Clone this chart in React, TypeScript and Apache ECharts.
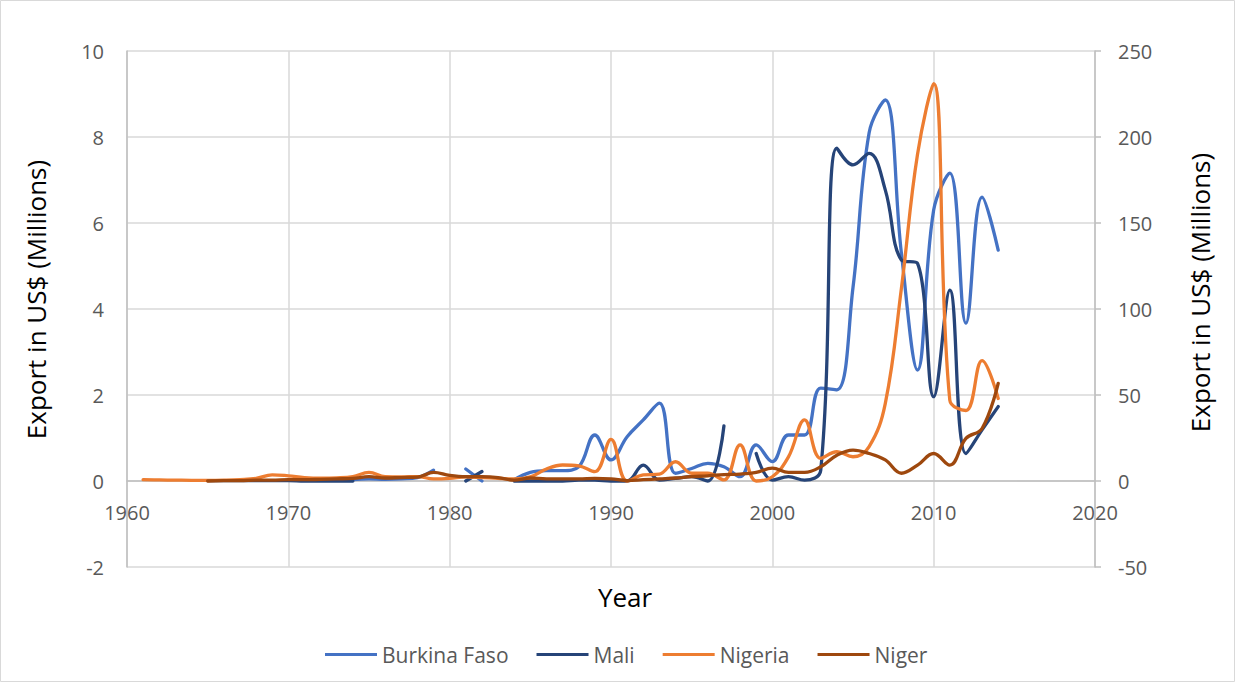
import React, { useEffect, useRef } from "react";
import * as echarts from "echarts";

const years = [
  1961, 1962, 1963, 1964, 1965, 1966, 1967, 1968, 1969, 1970,
  1971, 1972, 1973, 1974, 1975, 1976, 1977, 1978, 1979, 1980,
  1981, 1982, 1983, 1984, 1985, 1986, 1987, 1988, 1989, 1990,
  1991, 1992, 1993, 1994, 1995, 1996, 1997, 1998, 1999, 2000,
  2001, 2002, 2003, 2004, 2005, 2006, 2007, 2008, 2009, 2010,
  2011, 2012, 2013, 2014,
];

// Left axis (US$ millions)
const burkinaFaso = [
  null, null, null, null, null, null, null, null, null, null,
  null, null, null, 0.03, 0.05, 0.04, 0.05, 0.08, 0.25, null,
  0.28, 0.0, null, 0.03, 0.2, 0.24, 0.24, 0.33, 1.07, 0.49,
  1.03, 1.42, 1.81, 0.18, 0.29, 0.41, 0.33, 0.1, 0.84, 0.45,
  1.07, 1.07, 2.16, 2.12, 4.5, 8.1, 8.86, 5.3, 2.58, 6.3,
  7.16, 3.67, 6.6, 5.37,
];

const mali = [
  null, null, null, null, 0.01, 0.01, 0.01, 0.01, 0.01, 0.01,
  0.0, 0.0, 0.0, 0.0, null, null, null, null, null, null,
  0.0, 0.22, null, 0.0, 0.0, 0.0, 0.0, 0.02, 0.02, 0.0,
  0.0, 0.37, 0.02, 0.06, 0.1, 0.0, 1.28, null, 0.64, 0.02,
  0.1, 0.02, 0.25, 7.74, 7.35, 7.62, 6.77, 5.14, 5.06, 1.96,
  4.44, 0.64, 1.19, 1.73,
];

// Right axis (US$ millions)
const nigeria = [
  0.8, 0.6, 0.5, 0.4, 0.4, 0.5, 0.8, 1.5, 3.6, 3.0,
  2.0, 1.6, 1.8, 2.6, 5.0, 2.6, 2.4, 2.6, 1.2, 1.5,
  2.4, 2.0, 1.6, 1.2, 2.4, 7.0, 9.3, 8.8, 5.4, 24.2,
  0, 3.5, 4.0, 11.2, 4.5, 4.5, 0.6, 21, 0, 2.5,
  14, 35.5, 13.2, 17, 14.1, 20, 45, 112, 190, 231,
  47, 41, 70, 48,
];

// Left axis (US$ millions)
const niger = [
  null, null, null, null, 0.0, 0.01, 0.01, 0.02, 0.02, 0.03,
  0.03, 0.04, 0.05, 0.06, 0.1, 0.07, 0.08, 0.09, 0.2, 0.13,
  0.1, 0.1, 0.08, 0.02, 0.07, 0.05, 0.05, 0.05, 0.06, 0.05,
  0.01, 0.03, 0.05, 0.07, 0.1, 0.12, 0.15, 0.16, 0.2, 0.3,
  0.2, 0.2, 0.33, 0.6, 0.72, 0.64, 0.49, 0.18, 0.37, 0.64,
  0.37, 0.99, 1.22, 2.27,
];

const seriesNames = ["Burkina Faso", "Mali", "Nigeria", "Niger"];
const seriesColors = ["#4472C4", "#264478", "#ED7D31", "#9E480E"];
const seriesValues = [burkinaFaso, mali, nigeria, niger];
const seriesAxis = [0, 0, 1, 0];

const FONT = "'Open Sans', 'Noto Sans', sans-serif";

export default function App() {
  const ref = useRef<HTMLDivElement>(null);

  useEffect(() => {
    document.body.style.margin = "0";
    const chart = echarts.init(ref.current!, null, { renderer: "svg" });
    const series = seriesNames.map((name, i) => ({
      name,
      type: "line",
      yAxisIndex: seriesAxis[i],
      data: years.map((y, k) => [y, seriesValues[i][k]]),
      smooth: 0.4,
      symbol: "none",
      showSymbol: false,
      connectNulls: false,
      lineStyle: { color: seriesColors[i], width: 3.3, cap: "round", join: "round" },
      itemStyle: { color: seriesColors[i] },
    }));

    // the x axis sits on the zero line of the left axis: -2..10 over 516px -> 86px above the bottom
    const zeroOffset = -86;

    chart.setOption({
      animation: false,
      textStyle: { fontFamily: FONT },
      grid: {
        left: 127,
        right: 141,
        top: 51,
        bottom: 116,
        containLabel: false,
        outerBoundsMode: "none",
      },
      xAxis: {
        type: "value",
        position: "bottom",
        offset: zeroOffset,
        min: 1960,
        max: 2020,
        interval: 10,
        axisLine: { onZero: false, lineStyle: { color: "#bfbfbf", width: 1.5 } },
        axisTick: { show: false },
        axisLabel: {
          color: "#595959",
          fontSize: 20,
          fontFamily: FONT,
          margin: 21,
          showMinLabel: true,
          showMaxLabel: true,
          formatter: (v: number) => String(v),
        },
        splitLine: { show: true, lineStyle: { color: "#d9d9d9", width: 1.5 } },
        name: "Year",
        nameLocation: "middle",
        nameGap: 103,
        nameMoveOverlap: false,
        nameTextStyle: { color: "#000", fontSize: 26, fontFamily: FONT, padding: [0, 0, 0, 28] },
      },
      yAxis: [
        {
          type: "value",
          position: "left",
          min: -2,
          max: 10,
          interval: 2,
          axisLine: { show: true, lineStyle: { color: "#bfbfbf", width: 1.5 } },
          axisTick: { show: false },
          axisLabel: { color: "#595959", fontSize: 20, fontFamily: FONT, margin: 23 },
          splitLine: { show: true, lineStyle: { color: "#d9d9d9", width: 1.5 } },
          name: "Export in US$ (Millions)",
          nameLocation: "middle",
          nameRotate: 90,
          nameGap: 78,
          nameMoveOverlap: false,
          nameTextStyle: { color: "#000", fontSize: 26, fontFamily: FONT, padding: [0, 0, 0, 19] },
        },
        {
          type: "value",
          position: "right",
          min: -50,
          max: 250,
          interval: 50,
          axisLine: { show: true, lineStyle: { color: "#bfbfbf", width: 1.5 } },
          axisTick: { show: true, inside: false, length: 6, lineStyle: { color: "#bfbfbf", width: 1.5 } },
          axisLabel: { color: "#595959", fontSize: 20, fontFamily: FONT, margin: 23 },
          splitLine: { show: false },
          name: "Export in US$ (Millions)",
          nameLocation: "middle",
          nameRotate: 90,
          nameGap: 92,
          nameMoveOverlap: false,
          nameTextStyle: { color: "#000", fontSize: 26, fontFamily: FONT, padding: [0, 0, 0, 33] },
        },
      ],
      legend: {
        data: seriesNames,
        left: 325,
        top: 644,
        padding: 0,
        icon: "rect",
        itemWidth: 52,
        itemHeight: 3,
        itemGap: 28,
        textStyle: { color: "#595959", fontSize: 21, fontFamily: FONT },
      },
      graphic: [
        {
          type: "rect",
          silent: true,
          shape: { x: 0.5, y: 0.5, width: 1234, height: 681 },
          style: { fill: "none", stroke: "#d9d9d9", lineWidth: 1 },
        },
      ],
      series,
    });

    return () => chart.dispose();
  }, []);

  return <div ref={ref} style={{ width: 1236, height: 683 }} />;
}
